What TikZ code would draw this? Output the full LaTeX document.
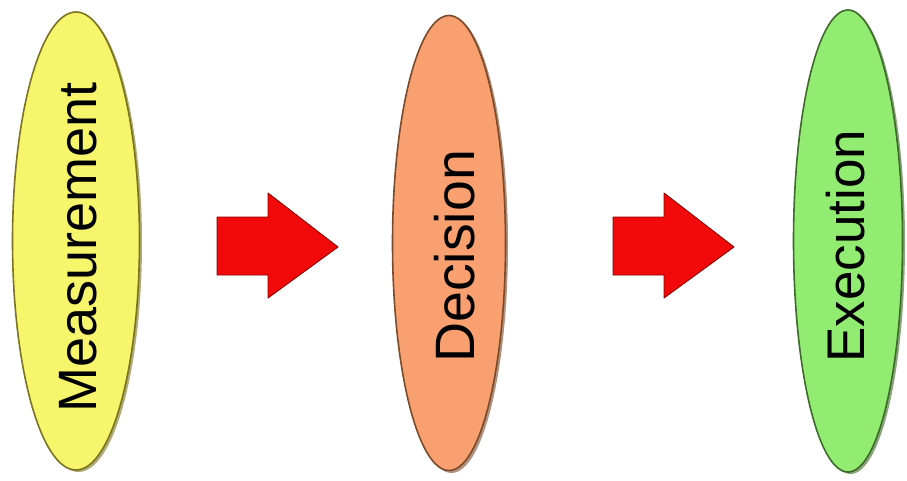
\documentclass[tikz,border=0pt]{standalone}
\usepackage{fontspec}
\setmainfont{Liberation Sans}
\usetikzlibrary{shapes.geometric}
\definecolor{ylwfill}{HTML}{F6F56C}
\definecolor{ylwedge}{HTML}{7A7420}
\definecolor{orgfill}{HTML}{F8A070}
\definecolor{orgedge}{HTML}{7A4A2A}
\definecolor{grnfill}{HTML}{92EC72}
\definecolor{grnedge}{HTML}{3E6A2A}
\definecolor{arrred}{HTML}{F20A0A}
\definecolor{arredge}{HTML}{8A0000}
\tikzset{
  stageoval/.style={ellipse, inner sep=0pt, line width=1.6pt},
  stagetext/.style={rotate=90, inner sep=0pt, text=black},
  blockarrow/.style={fill=arrred, draw=arredge, line width=0.9pt, line join=round},
}
\begin{document}
\begin{tikzpicture}[x=1pt,y=-1pt]
\useasboundingbox (0,0) rectangle (907,481);
% shadows
\fill[ylwedge!60] (78.5,243) ellipse [x radius=63.5, y radius=229];
\fill[orgedge!60] (451.5,245) ellipse [x radius=56.5, y radius=228];
\fill[grnedge!60] (850.5,243) ellipse [x radius=54.5, y radius=231];
% stages
\node[stageoval, fill=ylwfill, draw=ylwedge, minimum height=458pt, minimum width=127pt] (meas) at (76,241) {};
\node[stageoval, fill=orgfill, draw=orgedge, minimum height=455pt, minimum width=113pt] (dec) at (449,243) {};
\node[stageoval, fill=grnfill, draw=grnedge, minimum height=462pt, minimum width=109pt] (exe) at (848,241) {};
\node[stagetext, font=\fontsize{54}{60}\selectfont] (meastext) at ([xshift=2pt,yshift=-6.5pt]meas.center) {Measurement};
\node[stagetext, font=\fontsize{55.5}{60}\selectfont] (dectext) at ([xshift=6pt,yshift=-13.5pt]dec.center) {Decision};
\node[stagetext, font=\fontsize{53}{60}\selectfont] (exetext) at ([xshift=-2pt,yshift=-5pt]exe.center) {Execution};
% arrows
\coordinate (a1) at (217,217);
\coordinate (a2) at (613,217);
\draw[blockarrow] (a1) -- ++(51,0) -- ++(0,-24) -- ++(70,54) -- ++(-70,51) -- ++(0,-23) -- ++(-51,0) -- cycle;
\draw[blockarrow] (a2) -- ++(51,0) -- ++(0,-24) -- ++(70,54) -- ++(-70,51) -- ++(0,-23) -- ++(-51,0) -- cycle;
\end{tikzpicture}
\end{document}
